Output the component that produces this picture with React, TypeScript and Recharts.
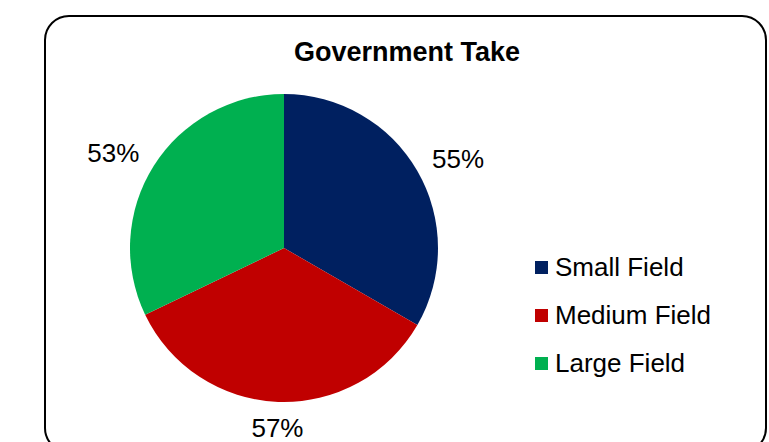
import React from "react";
import { PieChart, Pie, Cell } from "recharts";

const categories = ["Small Field", "Medium Field", "Large Field"];
const takeValues = [55, 57, 53];
const sliceColors = ["#002060", "#C00000", "#00B050"];

const data = categories.map((name, i) => ({ name, value: takeValues[i] }));

const FONT = "'Liberation Sans', Arial, sans-serif";
const RADIAN = Math.PI / 180;

const renderLabel = (props: any) => {
  const { cx, cy, midAngle, outerRadius, value } = props;
  const r = outerRadius + 17;
  const cos = Math.cos(-midAngle * RADIAN);
  const sin = Math.sin(-midAngle * RADIAN);
  const x = cx + r * cos;
  const y = cy + r * sin;
  let anchor: "start" | "end" | "middle" = "middle";
  if (cos > 0.3) anchor = "start";
  else if (cos < -0.3) anchor = "end";
  const dy = sin > 0.8 ? 9 : -4;
  return (
    <text
      x={x}
      y={y + dy}
      textAnchor={anchor}
      dominantBaseline="central"
      fill="#000"
      fontSize={26}
      fontFamily={FONT}
    >
      {`${value}%`}
    </text>
  );
};

const App: React.FC = () => {
  return (
    <div style={{ position: "absolute", left: 0, top: 0, width: 769, height: 442, overflow: "hidden", background: "#fff" }}>
      <div
        style={{
          position: "absolute",
          left: 44,
          top: 15,
          width: 723,
          height: 438,
          border: "2px solid #000",
          borderRadius: 25,
          boxSizing: "border-box",
        }}
      />
      <div
        style={{
          position: "absolute",
          left: 44,
          width: 726,
          top: 37,
          textAlign: "center",
          fontFamily: FONT,
          fontWeight: "bold",
          fontSize: 27,
          lineHeight: "30px",
        }}
      >
        Government Take
      </div>
      <PieChart
        width={769}
        height={442}
        margin={{ top: 0, right: 0, bottom: 0, left: 0 }}
        style={{ position: "absolute", left: 0, top: 0 }}
      >
        <Pie
          data={data}
          dataKey="value"
          nameKey="name"
          cx={284}
          cy={248}
          outerRadius={154}
          startAngle={90}
          endAngle={-270}
          stroke="none"
          label={renderLabel}
          labelLine={false}
          isAnimationActive={false}
        >
          {data.map((entry, index) => (
            <Cell key={`cell-${index}`} fill={sliceColors[index]} />
          ))}
        </Pie>
      </PieChart>
      <div style={{ position: "absolute", left: 535, top: 243, fontFamily: FONT }}>
        {categories.map((name, i) => (
          <div
            key={name}
            style={{ display: "flex", alignItems: "center", height: 48, fontSize: 26, color: "#000" }}
          >
            <span
              style={{
                display: "inline-block",
                width: 13,
                height: 13,
                background: sliceColors[i],
                marginRight: 7,
              }}
            />
            {name}
          </div>
        ))}
      </div>
    </div>
  );
};

export default App;
